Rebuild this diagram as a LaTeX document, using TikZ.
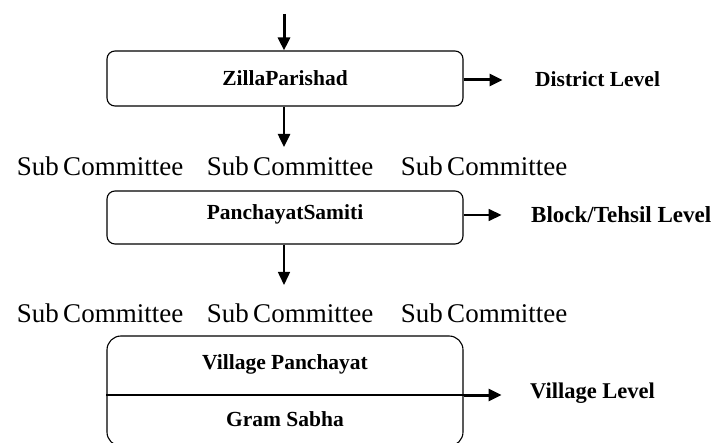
\documentclass[tikz,border=0pt]{standalone}
\usepackage{fontspec}
\setmainfont{Liberation Serif}
\usetikzlibrary{arrows.meta}

\begin{document}
\begin{tikzpicture}[x=1pt,y=-1pt,
  levelbox/.style={draw, line width=1.1pt, rounded corners=8pt, minimum width=356pt, inner sep=0pt},
  boxtext/.style={font=\fontsize{21.5}{23}\selectfont\bfseries},
  leveltext/.style={font=\fontsize{21.5}{23}\selectfont\bfseries, anchor=west, inner sep=0pt},
  subtext/.style={font=\fontsize{27}{29}\selectfont, inner sep=0pt},
  arrow/.style={-{Triangle[length=13pt,width=12pt]}, line width=3pt},
  thinarrow/.style={-{Triangle[length=13pt,width=12pt]}, line width=1.5pt}]

\useasboundingbox (0,0) rectangle (717,443);

% district level
\coordinate (top) at (284,14);
\node[levelbox, minimum height=55pt] (zilla) at (285,78.5) {};
\node[boxtext] (zillaname) at (285,78) {ZillaParishad};
\node[leveltext] (district) at (535,79) {District Level};
\draw[arrow] (top) -- (zilla.north -| top);
\draw[arrow] (zilla.east |- 0,80) -- +(39,0) coordinate (dend);

\node[subtext] (sub1) at (100,166) {Sub\,Committee};
\node[subtext] (sub2) at (290,166) {Sub\,Committee};
\node[subtext] (sub3) at (484,166) {Sub\,Committee};
\draw[arrow, line width=2.5pt] (zilla.south -| top) -- (284,147) coordinate (a1);

% block level
\node[levelbox, minimum height=53pt] (samiti) at (285,217.5) {};
\node[boxtext] (samitiname) at (285,214) {PanchayatSamiti};
\node[leveltext, font=\fontsize{23}{25}\selectfont\bfseries] (block) at (531,215) {Block/Tehsil Level};
\draw[thinarrow] (samiti.east |- 0,215) -- +(38,0) coordinate (bend);

\node[subtext] (sub4) at (100,313) {Sub\,Committee};
\node[subtext] (sub5) at (290,313) {Sub\,Committee};
\node[subtext] (sub6) at (484,313) {Sub\,Committee};
\draw[thinarrow] (samiti.south -| top) -- (284,285) coordinate (a2);

% village level
\node[levelbox, minimum height=110pt, rounded corners=14pt] (village) at (285,391) {};
\coordinate (divl) at (village.west |- 0,395);
\coordinate (divr) at (village.east |- 0,395);
\draw[line width=1.1pt] (divl) -- (divr);
\node[boxtext] (panchayat) at (285,364) {Village Panchayat};
\node[boxtext] (sabha) at (285,419) {Gram Sabha};
\node[leveltext, font=\fontsize{22.5}{24}\selectfont\bfseries] (vlevel) at (530,393) {Village Level};
\draw[arrow] (divr) -- +(38,0) coordinate (vend);

\end{tikzpicture}
\end{document}
